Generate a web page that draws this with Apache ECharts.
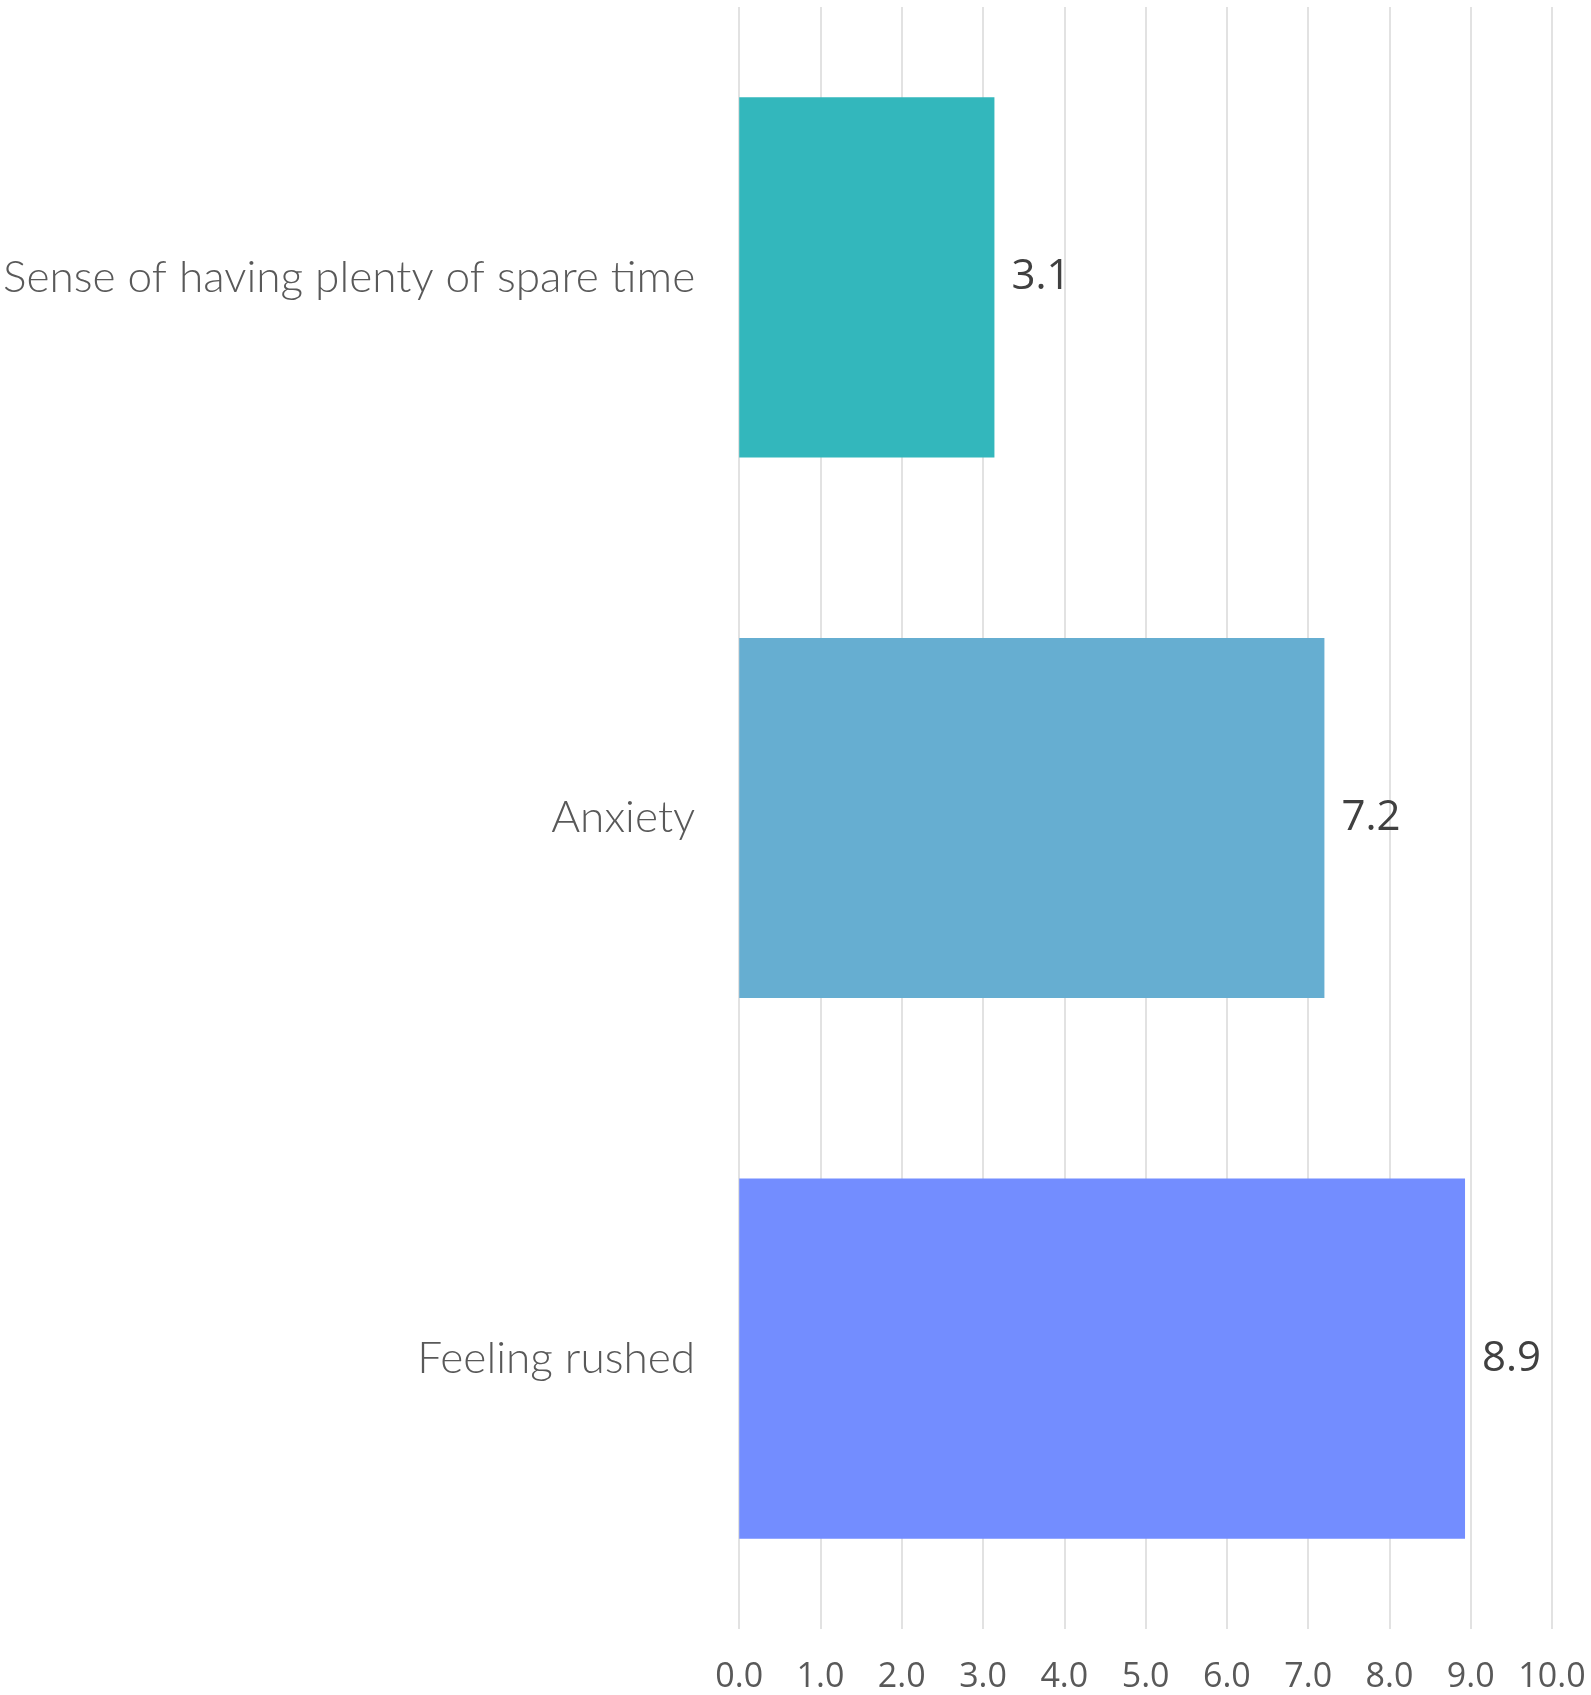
<!DOCTYPE html>
<html>
<head>
<meta charset="utf-8">
<script src="https://cdn.jsdelivr.net/npm/echarts@6/dist/echarts.min.js"></script>
<style>
  html, body { margin: 0; padding: 0; background: #fff; }
  #chart { width: 1591px; height: 1695px; }
</style>
</head>
<body>
<div id="chart"></div>
<script>
// data
const categories = ['Sense of having plenty of spare time', 'Anxiety', 'Feeling rushed'];
const values = [3.14, 7.2, 8.93];
const barColors = ['#33b7bc', '#66aed1', '#738dff'];
const axisMin = 0;
const axisMax = 10;
const axisStep = 1;

const chart = echarts.init(document.getElementById('chart'));

const option = {
    backgroundColor: '#ffffff',
    animation: false,
    grid: {
        left: 738,
        right: 39,
        top: 7,
        bottom: 66,
        containLabel: false
    },
    xAxis: {
        type: 'value',
        min: axisMin,
        max: axisMax,
        interval: axisStep,
        axisLine: { show: false },
        axisTick: { show: false },
        splitLine: { show: true, lineStyle: { color: '#d9d9d9', width: 1.5 } },
        axisLabel: {
            margin: 31,
            color: '#595959',
            fontFamily: 'Open Sans',
            fontSize: 34,
            formatter: function (v) { return v.toFixed(1); }
        }
    },
    yAxis: {
        type: 'category',
        inverse: true,
        data: categories,
        axisLine: { show: false },
        axisTick: { show: false },
        axisLabel: {
            margin: 44,
            color: '#595959',
            fontFamily: 'Lato',
            fontWeight: 300,
            fontSize: 44.2
        }
    },
    series: [{
        type: 'bar',
        barWidth: '66.6%',
        data: values.map(function (v, i) {
            return { value: v, itemStyle: { color: barColors[i] } };
        }),
        label: {
            show: true,
            position: 'right',
            distance: 17,
            color: '#404040',
            fontFamily: 'Open Sans',
            fontSize: 42,
            formatter: function (p) { return p.value.toFixed(1); }
        }
    }]
};

chart.setOption(option);
</script>
</body>
</html>
